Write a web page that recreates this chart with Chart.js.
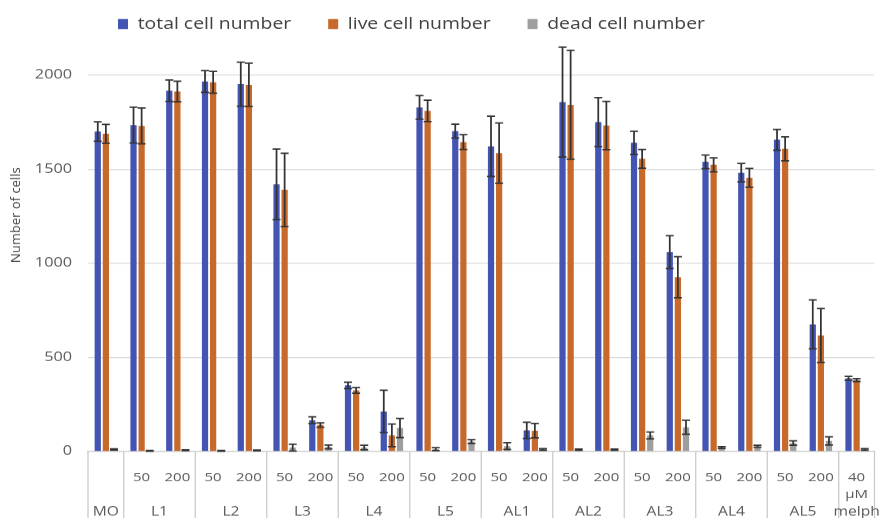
<!DOCTYPE html>
<html>
<head>
<meta charset="utf-8">
<script src="https://cdn.jsdelivr.net/npm/chart.js@4.4.1/dist/chart.umd.min.js"></script>
<style>
  html, body { margin: 0; padding: 0; background: #ffffff; overflow: hidden; }
  #chart { display: block; }
</style>
</head>
<body>
<canvas id="chart" width="704" height="518" style="width:880px;height:518px"></canvas>
<script>
// Treatment each bar group belongs to, and the dose shown under it
const treatments = ["MO", "L1", "L1", "L2", "L2", "L3", "L3", "L4", "L4", "L5", "L5",
  "AL1", "AL1", "AL2", "AL2", "AL3", "AL3", "AL4", "AL4", "AL5", "AL5", "melph"];
const doses = ["", "50", "200", "50", "200", "50", "200", "50", "200", "50", "200",
  "50", "200", "50", "200", "50", "200", "50", "200", "50", "200", ["40", "µM"]];

// Cell counts (mean) and their error (±)
const totalCells = [1700, 1734, 1917, 1966, 1952, 1419, 165, 351, 212, 1828, 1702,
  1621, 112, 1856, 1750, 1640, 1059, 1539, 1481, 1656, 675, 388];
const totalErr = [52, 95, 57, 58, 117, 188, 18, 17, 113, 63, 37,
  160, 43, 292, 130, 62, 87, 36, 49, 55, 130, 10];
const liveCells = [1688, 1730, 1913, 1962, 1948, 1390, 140, 324, 85, 1810, 1644,
  1585, 110, 1842, 1732, 1555, 926, 1523, 1454, 1608, 616, 379];
const liveErr = [50, 95, 55, 58, 115, 195, 12, 15, 60, 57, 39,
  160, 38, 289, 128, 50, 109, 37, 50, 64, 143, 8];
const deadCells = [10, 3, 6, 3, 5, 20, 23, 20, 124, 12, 52,
  28, 10, 9, 9, 85, 128, 20, 27, 44, 55, 10];
const deadErr = [3, 2, 2, 2, 2, 18, 10, 12, 51, 8, 10,
  18, 4, 3, 3, 18, 37, 5, 5, 12, 22, 4];

const yTicks = [0, 500, 1000, 1500, 2000];
const seriesNames = ["total cell number", "live cell number", "dead cell number"];
const seriesColors = ["#4354b3", "#c6692b", "#9e9e9e"];

// The drawing is widened horizontally by this factor (canvas 704 wide shown at 880)
const STRETCH = 1.25;
const TEXT = "#595959";
const FONT = "'Open Sans', sans-serif";
Chart.defaults.font.family = FONT;

// Vertical error bars with caps
const errorBars = {
  id: "errorBars",
  afterDatasetsDraw(chart) {
    const ctx = chart.ctx;
    const ys = chart.scales.y;
    ctx.save();
    ctx.strokeStyle = "#333333";
    ctx.lineWidth = 1.4;
    chart.data.datasets.forEach((ds, di) => {
      const meta = chart.getDatasetMeta(di);
      if (meta.hidden) return;
      meta.data.forEach((bar, i) => {
        const v = ds.data[i], e = ds.errors[i];
        const yTop = ys.getPixelForValue(v + e);
        const yBot = ys.getPixelForValue(v - e);
        const x = bar.x, cap = 3.2;
        ctx.beginPath();
        ctx.moveTo(x, yTop); ctx.lineTo(x, yBot);
        ctx.moveTo(x - cap, yTop); ctx.lineTo(x + cap, yTop);
        ctx.moveTo(x - cap, yBot); ctx.lineTo(x + cap, yBot);
        ctx.stroke();
      });
    });
    ctx.restore();
  }
};

// Treatment names and the box lines under the dose labels
const categoryTable = {
  id: "categoryTable",
  afterDraw(chart) {
    const ctx = chart.ctx;
    const xs = chart.scales.x;
    const area = chart.chartArea;
    const half = (xs.getPixelForValue(1) - xs.getPixelForValue(0)) / 2;
    ctx.save();
    ctx.strokeStyle = "#c9c9c9";
    ctx.lineWidth = 1;
    ctx.fillStyle = TEXT;
    ctx.font = "12.5px " + FONT;
    ctx.textAlign = "center";
    ctx.textBaseline = "middle";
    let start = 0;
    for (let i = 1; i <= treatments.length; i++) {
      if (i === treatments.length || treatments[i] !== treatments[start]) {
        const left = xs.getPixelForValue(start) - half;
        const right = xs.getPixelForValue(i - 1) + half;
        ctx.beginPath();
        ctx.moveTo(left, area.bottom); ctx.lineTo(left, chart.height);
        if (i === treatments.length) { ctx.moveTo(right, area.bottom); ctx.lineTo(right, chart.height); }
        ctx.stroke();
        ctx.fillText(treatments[start], (left + right) / 2, 511.5);
        start = i;
      }
    }
    ctx.restore();
  }
};

// Rotated value-axis title, drawn without the horizontal widening
const yTitle = {
  id: "yTitle",
  afterDraw(chart) {
    const ctx = chart.ctx;
    ctx.save();
    ctx.translate(16 / STRETCH, 215);
    ctx.scale(1 / STRETCH, 1);
    ctx.rotate(-Math.PI / 2);
    ctx.font = "13px " + FONT;
    ctx.fillStyle = "#404040";
    ctx.textAlign = "center";
    ctx.textBaseline = "middle";
    ctx.fillText("Number of cells", 0, 0);
    ctx.restore();
  }
};

// Places the legend row at its spot above the plot
const legendPlacement = {
  id: "legendPlacement",
  afterLayout(chart) {
    const lg = chart.legend;
    if (!lg || !lg.lineWidths) return;
    const pad = lg.options.labels.padding;
    const size = lg.options.labels.font.size;
    const startX = (lg.left + pad + lg.right - lg.lineWidths[0]) / 2;
    const dx = 118 / STRETCH - startX;
    const dy = 24 - (lg.top + pad + size / 2);
    lg.left += dx; lg.right += dx;
    lg.top += dy; lg.bottom += dy;
  }
};

const errorSets = [totalErr, liveErr, deadErr];
const valueSets = [totalCells, liveCells, deadCells];

new Chart(document.getElementById("chart"), {
  type: "bar",
  data: {
    labels: doses,
    datasets: seriesNames.map((name, k) => ({
      label: name,
      data: valueSets[k],
      errors: errorSets[k],
      backgroundColor: seriesColors[k],
      borderWidth: 0,
      categoryPercentage: 0.68,
      barPercentage: 0.77
    }))
  },
  options: {
    responsive: false,
    devicePixelRatio: STRETCH,
    animation: false,
    events: [],
    layout: { padding: { top: 19.9, left: 0, right: 0, bottom: 0 } },
    plugins: {
      tooltip: { enabled: false },
      legend: {
        position: "top",
        labels: {
          boxWidth: 8,
          boxHeight: 10,
          padding: 29.6,
          color: "#404040",
          font: { size: 15.5, family: FONT }
        }
      }
    },
    scales: {
      x: {
        grid: { display: false },
        border: { display: true, color: "#c9c9c9", width: 1 },
        ticks: {
          color: TEXT,
          font: { size: 12, lineHeight: 1.4 },
          padding: 9.6,
          maxRotation: 0,
          autoSkip: false
        },
        afterFit(scale) { scale.height = 67; }
      },
      y: {
        min: yTicks[0],
        max: yTicks[yTicks.length - 1],
        grid: { color: "#d9d9d9", drawTicks: false },
        border: { display: false },
        ticks: {
          stepSize: yTicks[1] - yTicks[0],
          color: TEXT,
          font: { size: 13 },
          padding: 12.8,
          callback: (value) => String(value)
        },
        afterFit(scale) { scale.width = 88 / STRETCH; }
      }
    }
  },
  plugins: [errorBars, categoryTable, yTitle, legendPlacement]
});
</script>
</body>
</html>
